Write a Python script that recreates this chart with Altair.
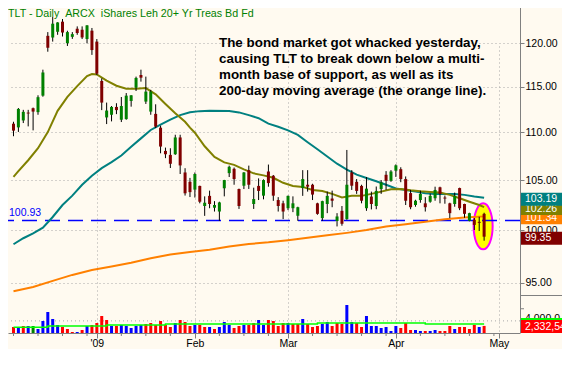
import json
import altair as alt
import pandas as pd

FONT = "Liberation Sans"
BG = "#FFFAF0"
GRID = "#A8A8A8"
AXC = "#808080"

# ---------------- data (trading-day index 0 = 8 Dec 2008) ----------------
IDX = list(range(97))
OPEN = [110.94, 110.54, 111.29, 112.15, 112.63, 112.20, 114.02, 120.88, 120.68, 121.36,
        122.56, 120.01, 120.76, 121.72, 121.60, 120.50, 121.49, 120.20, 115.67, 111.62,
        111.91, 112.77, 111.37, 111.44, 113.43, 114.91, 116.34, 113.36, 112.26, 112.01,
        110.51, 108.03, 107.61, 107.68, 109.46, 105.78, 104.82, 104.02, 104.40, 102.37,
        103.39, 102.20, 101.82, 104.16, 105.71, 106.16, 104.09, 104.42, 106.02, 102.57,
        104.40, 103.41, 105.88, 105.44, 102.97, 102.64, 102.15, 102.15, 101.40, 104.18,
        104.52, 104.52, 102.64, 101.17, 102.57, 103.12, 100.88, 101.89, 101.07, 105.78,
        104.82, 104.40, 102.15, 103.32, 102.37, 104.08, 105.54, 104.92, 105.96, 106.12,
        105.10, 103.67, 102.47, 102.97, 102.64, 102.80, 103.15, 104.26, 103.22, 102.64,
        102.57, 104.18, 102.57, 100.90, 101.00, 100.80, 101.59]
HIGH = [111.15, 112.65, 112.45, 112.45, 112.70, 114.06, 116.95, 121.32, 123.12, 122.50,
        122.88, 121.48, 121.32, 122.00, 122.00, 122.15, 121.81, 120.50, 115.96, 113.25,
        112.87, 113.18, 113.87, 114.31, 114.07, 116.16, 116.95, 116.16, 114.67, 113.06,
        110.72, 108.38, 108.31, 109.75, 109.75, 106.22, 105.22, 105.78, 104.42, 103.34,
        103.92, 102.86, 102.80, 105.02, 106.49, 106.29, 104.12, 105.82, 106.49, 104.22,
        105.17, 105.07, 106.60, 105.52, 103.26, 102.90, 103.42, 103.34, 102.30, 106.02,
        106.02, 104.62, 102.70, 102.90, 103.82, 103.92, 101.66, 102.37, 108.13, 106.02,
        105.10, 104.52, 105.31, 103.82, 104.34, 105.00, 105.92, 106.02, 106.62, 106.32,
        105.37, 103.99, 103.00, 103.92, 103.26, 103.62, 104.32, 104.32, 103.42, 102.70,
        103.72, 104.22, 102.60, 101.70, 101.17, 101.30, 101.70]
LOW = [109.59, 110.05, 111.01, 110.65, 110.22, 111.91, 113.90, 119.02, 120.20, 121.00,
       120.80, 119.69, 120.52, 121.00, 120.50, 120.00, 118.65, 116.35, 112.42, 110.90,
       111.19, 111.98, 111.12, 111.37, 112.80, 114.54, 115.59, 113.10, 111.91, 110.47,
       107.78, 107.27, 106.24, 107.61, 105.62, 103.42, 103.27, 103.22, 102.64, 101.39,
       102.15, 101.82, 100.90, 103.34, 105.31, 104.52, 102.08, 104.08, 104.09, 102.08,
       102.97, 103.04, 104.32, 102.89, 101.82, 101.07, 101.96, 101.76, 100.90, 103.39,
       103.82, 102.97, 101.50, 100.90, 101.66, 102.25, 100.35, 100.42, 101.00, 103.99,
       103.59, 102.64, 101.89, 102.03, 102.05, 103.59, 103.99, 104.82, 105.32, 104.78,
       102.47, 102.05, 102.30, 102.70, 101.82, 102.70, 102.90, 102.64, 102.60, 101.17,
       102.30, 101.96, 101.20, 100.85, 100.00, 99.90, 98.96]
CLOSE = [110.19, 112.55, 112.23, 112.05, 112.26, 113.85, 116.63, 119.48, 122.32, 122.47,
         121.27, 121.32, 121.08, 121.21, 120.69, 122.12, 119.21, 116.49, 113.25, 112.37,
         112.77, 112.42, 112.87, 114.02, 114.06, 116.01, 116.04, 114.47, 114.47, 110.62,
         108.49, 107.68, 106.68, 109.46, 106.51, 103.65, 103.77, 105.62, 102.80, 102.70,
         102.57, 102.47, 102.73, 105.00, 106.37, 105.10, 102.37, 105.78, 104.52, 103.07,
         103.89, 105.00, 104.69, 103.41, 102.37, 101.82, 103.39, 102.64, 102.25, 105.10,
         104.32, 103.52, 101.59, 102.86, 103.39, 102.90, 101.33, 100.61, 104.52, 104.42,
         103.89, 102.90, 104.12, 102.57, 103.89, 104.76, 104.92, 105.88, 106.52, 105.10,
         102.90, 102.25, 102.90, 103.59, 102.25, 103.39, 103.99, 103.59, 103.12, 101.66,
         103.39, 102.15, 101.59, 101.66, 100.50, 100.70, 99.35]
# volume in millions of shares
VOLUME = [1.98, 1.98, 2.31, 2.31, 2.31, 1.32, 3.96, 6.93, 4.62, 2.64,
          1.98, 1.32, 0.33, 0.33, 0.99, 2.31, 2.64, 3.30, 5.61, 4.29,
          2.31, 2.31, 2.64, 2.31, 1.65, 2.31, 2.64, 2.97, 3.30, 2.64,
          3.96, 2.64, 1.98, 3.30, 4.29, 3.63, 2.31, 2.64, 2.64, 1.98,
          1.98, 1.32, 1.98, 3.63, 2.64, 1.65, 2.31, 2.64, 2.64, 3.30,
          4.29, 2.64, 4.29, 3.96, 2.31, 3.30, 3.30, 2.97, 2.97, 4.62,
          2.97, 1.98, 2.31, 2.97, 3.63, 2.31, 3.30, 2.97, 9.24, 3.63,
          3.30, 1.98, 5.61, 2.31, 2.31, 1.65, 1.98, 0.66, 2.31, 1.65,
          3.30, 0.99, 0.99, 0.66, 0.66, 0.66, 0.99, 0.66, 0.66, 2.31,
          1.32, 1.98, 1.98, 1.32, 2.64, 1.98, 2.332548]
VOL_DIR = list("RBRBGBBBBBRRRBRBRRRRBRBBBBBRRRRRRBRRRBRRBRBBBRRBRRBBRRRRBRRBRRRBBRRRBBRRBBBBBBBRRRBBRBBRRRBRRRRBR")

MA20_IDX = [0, 1, 3, 5, 7, 9, 11, 13, 15, 16, 17, 19, 21, 23, 25, 27, 29, 31, 33, 35,
            36, 37, 39, 41, 43, 45, 47, 49, 51, 53, 55, 57, 59, 61, 63, 65, 67, 69, 71, 73,
            75, 77, 79, 81, 83, 85, 87, 89, 91, 93, 95, 96]
MA20_VAL = [105.32, 105.91, 107.05, 108.32, 110.03, 112.34, 113.88, 115.09, 116.23, 116.46,
            116.40, 115.70, 115.13, 114.80, 114.80, 114.87, 114.17, 113.10, 112.07, 111.15,
            110.51, 109.97, 108.52, 107.39, 106.83, 106.57, 106.10, 105.69, 105.48, 105.23,
            104.72, 104.40, 104.30, 103.99, 103.89, 103.59, 103.23, 103.39, 103.39, 103.59,
            103.82, 104.06, 104.09, 103.96, 103.86, 103.79, 103.72, 103.49, 103.15, 102.80,
            102.47, 102.26]
MA50_IDX = [0, 2, 4, 6, 8, 10, 12, 14, 16, 18, 20, 22, 24, 26, 28, 30, 32, 34, 36, 38,
            40, 44, 46, 48, 50, 52, 54, 56, 58, 60, 62, 64, 66, 68, 70, 72, 74, 76, 78, 80,
            82, 84, 86, 88, 90, 92, 94, 96]
MA50_VAL = [98.62, 99.20, 99.67, 100.23, 101.28, 102.47, 103.41, 104.52, 105.44, 106.23,
            106.86, 107.55, 108.47, 109.36, 110.26, 110.83, 111.38, 111.87, 112.19, 112.31,
            112.35, 112.33, 112.17, 111.87, 111.54, 110.95, 110.61, 110.22, 109.73, 108.95,
            108.20, 107.44, 106.69, 106.08, 105.56, 105.21, 104.88, 104.52, 104.14, 103.99,
            103.82, 103.65, 103.59, 103.59, 103.59, 103.49, 103.32, 103.19]
MA200_IDX = [0, 4, 8, 12, 16, 20, 24, 28, 32, 36, 40, 44, 48, 52, 56, 60, 64, 68, 72, 76,
             80, 84, 88, 92, 96]
MA200_VAL = [94.20, 94.58, 95.15, 95.71, 96.16, 96.49, 96.86, 97.28, 97.64, 97.88,
             98.10, 98.41, 98.64, 98.80, 99.01, 99.25, 99.48, 99.72, 100.00, 100.35,
             100.56, 100.80, 101.05, 101.22, 101.34]
VOLAVG_IDX = [0, 7, 19, 31, 62, 84, 96]
VOLAVG_VAL = [1.88, 2.31, 2.64, 2.97, 3.30, 2.97, 2.97]

MONTH_IDX = [17, 37, 56, 78, 99]
MONTH_LABELS = ["'09", "Feb", "Mar", "Apr", "May"]
WEEK_TICKS = [0, 5, 10, 15, 22, 27, 32, 42, 47, 52, 61, 66, 71, 76, 83, 88, 93, 98]
PRICE_TICKS = [95, 100, 105, 110, 115, 120]
VOL_GRID = [4.0]
VOL_TICKS = [4.0, 8.0]
SUPPORT = 100.93
HILITE_IDX = [95.8]
HILITE_PRICE = [100.36]

TITLE = "TLT - Daily\u00a0\u00a0ARCX\u00a0\u00a0iShares Leh 20+ Yr Treas Bd Fd"
NOTE = ["The bond market got whacked yesterday,",
        "causing TLT to break down below a multi-",
        "month base of support, as well as its",
        "200-day moving average (the orange line)."]

# ---------------- layout ----------------
W, H = 512, 325
PRICE_H = 287

x_scale = alt.Scale(domain=[-0.1, 102.3], nice=False, zero=False)
price_scale = alt.Scale(type="log", domain=[93.85, 124.21], range=[PRICE_H, 0], nice=False)
vol_scale = alt.Scale(domain=[0, 12.54], range=[H, PRICE_H], nice=False, zero=True)

label_expr = "''"
for i, lab in reversed(list(zip(MONTH_IDX, MONTH_LABELS))):
    label_expr = f"datum.value == {i} ? {json.dumps(lab)} : {label_expr}"

x_axis = alt.Axis(values=MONTH_IDX, labelExpr=label_expr, grid=True, gridColor=GRID,
                  gridDash=[1, 3], tickSize=5, tickColor=AXC, domainColor=AXC,
                  labelPadding=0, labelFont=FONT, labelFontSize=10.5, labelColor="#000000",
                  title=None, zindex=0, labelFlush=False, labelOverlap=False)
price_axis = alt.Axis(orient="right", values=PRICE_TICKS, format=".2f", grid=True,
                      gridColor=GRID, gridDash=[1, 3], tickSize=4, tickColor=AXC,
                      domain=False, labelPadding=1, labelFont=FONT, labelFontSize=10.5,
                      labelColor="#000000", title=None, zindex=0, labelFlush=False)


def X(f):
    return alt.X(f, type="quantitative", scale=x_scale, axis=x_axis)


def PY(f):
    return alt.Y(f, type="quantitative", scale=price_scale, axis=price_axis)


def VY(f):
    return alt.Y(f, type="quantitative", scale=vol_scale, axis=None)


df = pd.DataFrame({"idx": IDX, "open": OPEN, "high": HIGH, "low": LOW, "close": CLOSE,
                   "volume": VOLUME, "vdir": VOL_DIR})
df["ccolor"] = ["#008000" if c >= o else "#800000" for o, c in zip(OPEN, CLOSE)]
df["vcolor"] = df["vdir"].map({"B": "#0000FF", "R": "#FF0000", "G": "#008000"})

one = pd.DataFrame({"a": [0]})

ELLIPSE = "M -0.413 0 A 0.413 1 0 1 0 0.413 0 A 0.413 1 0 1 0 -0.413 0 Z"
BOX_P = "M -1 -0.185 H 1 V 0.296 H -1 Z"
BOX_V = "M -1 -0.222 H 1 V 0.259 H -1 Z"

# ---------------- price layers ----------------
hl = alt.Chart(pd.DataFrame({"idx": HILITE_IDX, "price": HILITE_PRICE})).mark_point(
    shape=ELLIPSE, size=2116, filled=True, fill="#FFFF00", stroke="#FF00FF",
    strokeWidth=2, opacity=1).encode(x=X("idx"), y=PY("price"))

sup_df = pd.DataFrame({"price": [SUPPORT], "label": [f"{SUPPORT:.2f}"]})
sup = alt.Chart(sup_df).mark_rule(color="#0000FF", strokeWidth=1.5,
                                  strokeDash=[15, 8]).encode(y=PY("price"))
sup_lab = alt.Chart(sup_df).mark_text(align="left", baseline="middle", dy=-8, font=FONT,
                                      fontSize=10.5, color="#0000FF").encode(
    x=alt.value(1), y=PY("price"), text="label:N")


def ma_line(ix, vals, col):
    return alt.Chart(pd.DataFrame({"idx": ix, "value": vals})).mark_line(
        color=col, strokeWidth=2).encode(x=X("idx"), y=PY("value"))


ma200 = ma_line(MA200_IDX, MA200_VAL, "#FF8000")
ma50 = ma_line(MA50_IDX, MA50_VAL, "#008080")
ma20 = ma_line(MA20_IDX, MA20_VAL, "#808000")

wicks = alt.Chart(df).mark_rule(color="#000000", strokeWidth=1).encode(
    x=X("idx"), y=PY("low"), y2="high")
bodies = alt.Chart(df).mark_bar(size=3).encode(
    x=X("idx"), y=PY("open"), y2="close", color=alt.Color("ccolor:N", scale=None))

title = alt.Chart(one).mark_text(align="left", baseline="top", font=FONT, fontSize=10.7,
                                 color="#008000", text=TITLE).encode(
    x=alt.value(0), y=alt.value(1))
note = alt.Chart(one).mark_text(align="left", baseline="alphabetic", font=FONT,
                                fontSize=13.4, fontWeight="bold", lineHeight=16,
                                color="#000000", text=NOTE).encode(
    x=alt.value(211), y=alt.value(38.7))

box_layers = []
for val, col in [(CLOSE[-1], "#800000"), (MA200_VAL[-1], "#FF8000"),
                 (MA20_VAL[-1], "#808000"), (MA50_VAL[-1], "#008080")]:
    bd = pd.DataFrame({"v": [val], "t": [f"{val:.2f}"]})
    box_layers.append(alt.Chart(bd).mark_point(shape=BOX_P, size=2916, filled=True,
                                               opacity=1, color=col, strokeWidth=0).encode(
        x=alt.value(540), y=PY("v")))
    box_layers.append(alt.Chart(bd).mark_text(align="left", baseline="middle", dy=1.5,
                                              color="#FFFFFF", font=FONT, fontSize=10.5).encode(
        x=alt.value(517), y=PY("v"), text="t:N"))

axis_line = alt.Chart(one).mark_rule(color=AXC).encode(
    x=alt.value(512.5), y=alt.value(0), y2=alt.value(H))
sep_line = alt.Chart(one).mark_rule(color=AXC).encode(
    x=alt.value(512.5), x2=alt.value(560), y=alt.value(PRICE_H + 0.5))

price = alt.layer(hl, sup, sup_lab, ma200, ma50, ma20, wicks, bodies, title, note,
                  axis_line, sep_line, *box_layers)

# ---------------- volume layers ----------------
vgrid = alt.Chart(pd.DataFrame({"v": VOL_GRID})).mark_rule(
    color=GRID, strokeDash=[1, 3]).encode(y=VY("v"))
vbars = alt.Chart(df).mark_bar(size=3).encode(
    x=X("idx"), y=VY("volume"), color=alt.Color("vcolor:N", scale=None))
vavg = alt.Chart(pd.DataFrame({"idx": VOLAVG_IDX, "value": VOLAVG_VAL})).mark_line(
    color="#00FF00", strokeWidth=1.5, interpolate="step-after").encode(
    x=X("idx"), y=VY("value"))
vlab = alt.Chart(pd.DataFrame({"v": VOL_GRID, "t": [f"{v * 1000:,.1f}" for v in VOL_GRID]})).mark_text(
    align="left", baseline="middle", dy=-2, font=FONT, fontSize=10.5, color="#000000").encode(
    x=alt.value(517), y=VY("v"), text="t:N")
vticks = alt.Chart(pd.DataFrame({"v": VOL_TICKS})).mark_rule(color=AXC).encode(
    x=alt.value(512), x2=alt.value(516), y=VY("v"))
gbox = alt.Chart(pd.DataFrame({"v": [VOLAVG_VAL[-1]]})).mark_point(
    shape=BOX_V, size=2916, filled=True, opacity=1, color="#00FF00", strokeWidth=0).encode(
    x=alt.value(540), y=VY("v"))
rdf = pd.DataFrame({"v": [VOLUME[-1]], "t": [f"{round(VOLUME[-1] * 1e6):,}"]})
rbox = alt.Chart(rdf).mark_point(shape=BOX_V, size=2916, filled=True, opacity=1,
                                 color="#FF0000", strokeWidth=0).encode(
    x=alt.value(540), y=VY("v"))
rtxt = alt.Chart(rdf).mark_text(align="left", baseline="middle", dy=1, color="#FFFFFF",
                                font=FONT, fontSize=10.5).encode(
    x=alt.value(517), y=VY("v"), text="t:N")
wticks = alt.Chart(pd.DataFrame({"idx": WEEK_TICKS})).mark_rule(color=AXC).encode(
    x=X("idx"), y=alt.value(H), y2=alt.value(H + 3))

vol = alt.layer(vgrid, vbars, vavg, vlab, vticks, gbox, rbox, rtxt, wticks)

chart = alt.layer(price, vol).resolve_scale(y="independent").properties(
    width=W, height=H,
    padding={"left": 0, "top": 0, "right": 42, "bottom": 16},
    autosize=alt.AutoSizeParams(type="none"),
    background=BG,
).configure_view(stroke=None)

chart.save("out.html", embed_options={"renderer": "svg", "actions": False})
